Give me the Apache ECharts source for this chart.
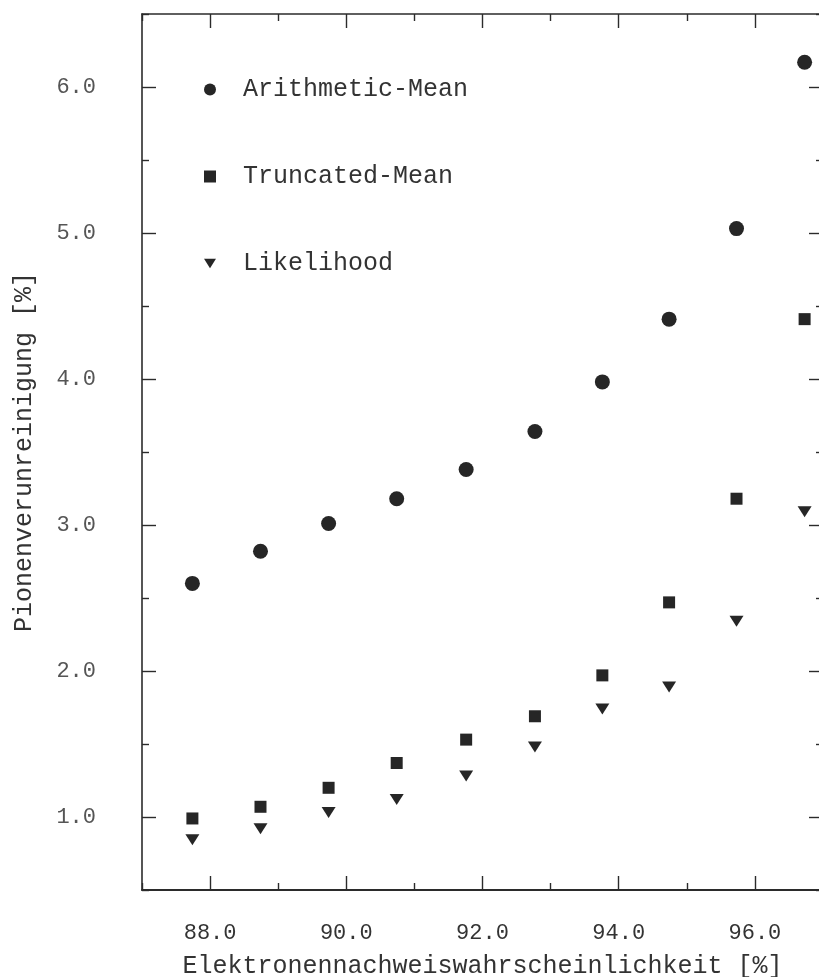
<!DOCTYPE html>
<html>
<head>
<meta charset="utf-8">
<script src="https://cdn.jsdelivr.net/npm/echarts@6/dist/echarts.min.js"></script>
<style>
  html, body { margin: 0; padding: 0; background: #ffffff; }
  #chart { width: 819px; height: 977px; }
</style>
</head>
<body>
<div id="chart"></div>
<script>
// Electron detection efficiency (%) at which each working point was evaluated
const efficiency = [87.74, 88.74, 89.74, 90.74, 91.76, 92.77, 93.76, 94.74, 95.73, 96.73];

// Pion contamination (%) for the three methods
const arithmeticMean = [2.60, 2.82, 3.01, 3.18, 3.38, 3.64, 3.98, 4.41, 5.03, 6.17];
const truncatedMean  = [0.99, 1.07, 1.20, 1.37, 1.53, 1.69, 1.97, 2.47, 3.18, 4.41];
const likelihood     = [0.845, 0.92, 1.03, 1.12, 1.28, 1.48, 1.74, 1.89, 2.34, 3.09];

const seriesNames = ['Arithmetic-Mean', 'Truncated-Mean', 'Likelihood'];

// Labelled tick values
const xTickLabels = [88, 90, 92, 94, 96];
const yTickLabels = [1, 2, 3, 4, 5, 6];

const ink = '#262626';
const mono = '"Liberation Mono", "DejaVu Sans Mono", monospace';
const downTriangle = 'path://M0,0 L14,0 L7,11 Z';

function pairs(ys) {
  return efficiency.map((x, i) => [x, ys[i]]);
}

const chart = echarts.init(document.getElementById('chart'), null, { renderer: 'canvas' });

function line(width) {
  return { show: true, onZero: false, lineStyle: { color: '#2b2b2b', width: width } };
}

function xAxisCfg(position, withLabels) {
  return {
    type: 'value',
    position: position,
    min: 87, max: 97, interval: 2,
    axisLine: line(withLabels ? 2 : 1.6),
    splitLine: { show: false },
    axisTick: { show: true, inside: true, length: 7, lineStyle: { color: '#2b2b2b', width: 1.4 } },
    minorTick: { show: true, splitNumber: 2, length: 14, lineStyle: { color: '#2b2b2b', width: 1.4 } },
    minorSplitLine: { show: false },
    axisLabel: withLabels ? {
      show: true,
      customValues: xTickLabels,
      formatter: v => v.toFixed(1),
      margin: 32,
      color: '#333',
      fontFamily: mono,
      fontSize: 22
    } : { show: false },
    name: withLabels ? 'Elektronennachweiswahrscheinlichkeit [%]' : '',
    nameLocation: 'middle',
    nameGap: 64,
    nameTextStyle: { fontFamily: mono, fontSize: 25, color: '#333' }
  };
}

function yAxisCfg(position, withLabels) {
  return {
    type: 'value',
    position: position,
    min: 0.5, max: 6.5, interval: 1,
    axisLine: line(1.6),
    splitLine: { show: false },
    axisTick: { show: true, inside: true, length: 7, lineStyle: { color: '#2b2b2b', width: 1.4 } },
    minorTick: { show: true, splitNumber: 2, length: 14, lineStyle: { color: '#2b2b2b', width: 1.4 } },
    minorSplitLine: { show: false },
    axisLabel: withLabels ? {
      show: true,
      customValues: yTickLabels,
      formatter: v => v.toFixed(1),
      margin: 46,
      color: '#555',
      fontFamily: mono,
      fontSize: 22
    } : { show: false },
    name: withLabels ? 'Pionenverunreinigung [%]' : '',
    nameLocation: 'middle',
    nameRotate: 90,
    nameGap: 105,
    nameTextStyle: { fontFamily: mono, fontSize: 25, color: '#333' }
  };
}

const option = {
  backgroundColor: '#ffffff',
  animation: false,
  grid: {
    left: 142, top: 14, width: 681, height: 876,
    outerBoundsMode: 'none',
    containLabel: false
  },
  legend: {
    orient: 'vertical',
    left: 199,
    top: 72,
    itemWidth: 12,
    itemHeight: 12,
    itemGap: 62,
    data: [
      { name: seriesNames[0], icon: 'circle' },
      { name: seriesNames[1], icon: 'rect' },
      { name: seriesNames[2], icon: downTriangle }
    ],
    textStyle: { fontFamily: mono, fontSize: 25, color: '#333', padding: [0, 0, 0, 22] }
  },
  xAxis: [xAxisCfg('bottom', true), xAxisCfg('top', false)],
  yAxis: [yAxisCfg('left', true), yAxisCfg('right', false)],
  series: [
    {
      name: seriesNames[0], type: 'scatter',
      symbol: 'circle', symbolSize: 15,
      itemStyle: { color: ink, opacity: 1 },
      data: pairs(arithmeticMean)
    },
    {
      name: seriesNames[1], type: 'scatter',
      symbol: 'rect', symbolSize: 12,
      itemStyle: { color: ink, opacity: 1 },
      data: pairs(truncatedMean)
    },
    {
      name: seriesNames[2], type: 'scatter',
      symbol: 'triangle', symbolRotate: 180, symbolSize: [14, 11],
      itemStyle: { color: ink, opacity: 1 },
      data: pairs(likelihood)
    }
  ]
};

chart.setOption(option);
</script>
</body>
</html>
